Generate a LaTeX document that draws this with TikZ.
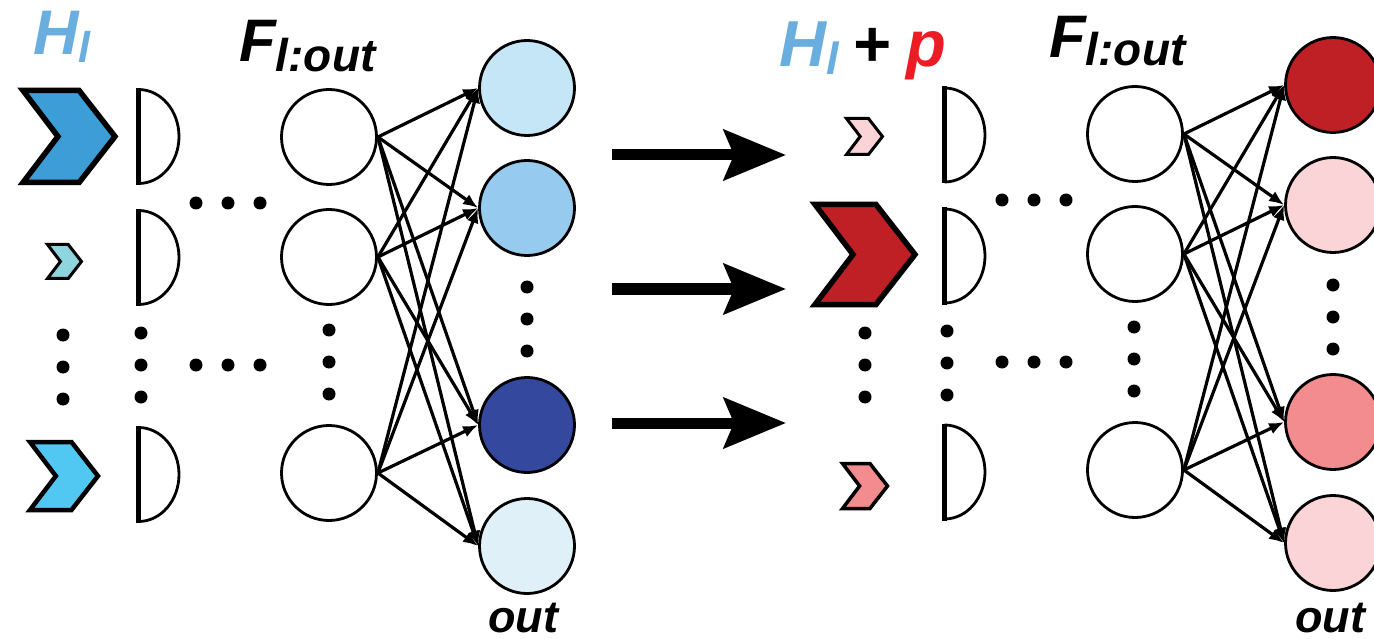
\documentclass[tikz,border=0pt]{standalone}
\usepackage{fontspec}
\setmainfont{Liberation Sans}
\usetikzlibrary{arrows.meta}

\definecolor{hblue}{RGB}{106,174,224}
\definecolor{chevA}{RGB}{61,157,214}
\definecolor{chevB}{RGB}{143,213,224}
\definecolor{chevC}{RGB}{80,200,242}
\definecolor{outA}{RGB}{196,230,247}
\definecolor{outB}{RGB}{150,202,238}
\definecolor{outC}{RGB}{52,73,158}
\definecolor{outD}{RGB}{223,240,248}
\definecolor{redA}{RGB}{190,32,38}
\definecolor{pinkA}{RGB}{250,212,214}
\definecolor{salmonA}{RGB}{242,140,143}
\definecolor{pred}{RGB}{237,28,36}

\tikzset{
  neuron/.style={circle,draw,line width=2.8pt,minimum size=95pt,inner sep=0pt},
  link/.style={line width=3.2pt,-{Latex[length=15pt,width=12pt]}},
  bigarrow/.style={line width=11pt,-{Stealth[length=62pt,width=50pt,inset=10pt]}},
  heading/.style={font=\bfseries\itshape,inner sep=0pt,anchor=base west},
}

% chevron: centre x, centre y, height, fill, line width
\newcommand{\chevron}[5]{%
  \filldraw[fill=#4,line width=#5] ({#1-0.5*#3},{#2-0.5*#3}) -- ({#1+0.11*#3},{#2-0.5*#3})
    -- ({#1+0.5*#3},#2) -- ({#1+0.11*#3},{#2+0.5*#3}) -- ({#1-0.5*#3},{#2+0.5*#3})
    -- ({#1-0.12*#3},#2) -- cycle;}
% half disc: x of the flat side, centre y
\newcommand{\halfdisc}[2]{%
  \draw[line width=2.8pt] (#1,{#2-47}) arc[start angle=-90,end angle=90,x radius=40.5,y radius=47];
  \draw[line width=5pt] (#1,{#2-48.5}) -- (#1,{#2+48.5});}
\newcommand{\vdotcol}[2]{\fill (#1,#2) circle[radius=6.5] (#1,{#2+32}) circle[radius=6.5] (#1,{#2+64}) circle[radius=6.5];}
\newcommand{\hdotrow}[2]{\fill (#1,#2) circle[radius=6.5] ({#1+32},#2) circle[radius=6.5] ({#1+64},#2) circle[radius=6.5];}

\begin{document}
\begin{tikzpicture}[x=1pt,y=-1pt]
    \useasboundingbox (0,0) rectangle (1374,639);

    % left: H_l feeding F_l:out
    \node[heading,text=hblue] (hl) at (33,55) {\fontsize{63}{63}\selectfont H\raisebox{-8pt}{\fontsize{43}{43}\selectfont l}};
    \node[heading] (fl) at (239,62) {\fontsize{60}{60}\selectfont F\raisebox{-10pt}{\fontsize{46}{46}\selectfont l:out}};

    \chevron{69}{136.5}{92}{chevA}{5.5}
    \chevron{64.5}{261.5}{34}{chevB}{3}
    \chevron{64}{476}{68}{chevC}{4.5}
    \vdotcol{63}{335}

    \halfdisc{138.5}{136.5}
    \halfdisc{138.5}{257.5}
    \halfdisc{138.5}{474.5}
    \vdotcol{141}{333}
    \hdotrow{196}{203}
    \hdotrow{196}{365}

    \node[neuron] (h1) at (329,137) {};
    \node[neuron] (h2) at (329,257) {};
    \node[neuron] (h3) at (329,473) {};
    \vdotcol{329}{330}

    \node[neuron,fill=outA] (o1) at (527,88) {};
    \node[neuron,fill=outB] (o2) at (527,208) {};
    \node[neuron,fill=outC] (o3) at (527,425) {};
    \node[neuron,fill=outD] (o4) at (527,546) {};
    \vdotcol{527}{287}
    \node[heading] (outl) at (488,632) {\fontsize{45}{45}\selectfont out};

    \draw[link] (h1.east) -- (o1.west);
    \draw[link] (h1.east) -- (o2.west);
    \draw[link] (h1.east) -- (o3.west);
    \draw[link] (h1.east) -- (o4.west);
    \draw[link] (h2.east) -- (o1.west);
    \draw[link] (h2.east) -- (o2.west);
    \draw[link] (h2.east) -- (o3.west);
    \draw[link] (h2.east) -- (o4.west);
    \draw[link] (h3.east) -- (o1.west);
    \draw[link] (h3.east) -- (o2.west);
    \draw[link] (h3.east) -- (o3.west);
    \draw[link] (h3.east) -- (o4.west);

    % middle arrows
    \coordinate (a1) at (612,155);
    \coordinate (b1) at (786,155);
    \coordinate (a2) at (612,289);
    \coordinate (b2) at (786,289);
    \coordinate (a3) at (612,423);
    \coordinate (b3) at (786,423);
    \draw[bigarrow] (a1) -- (b1);
    \draw[bigarrow] (a2) -- (b2);
    \draw[bigarrow] (a3) -- (b3);

    % right: H_l + p feeding F_l:out
    \node[heading,text=hblue] (hp) at (779,67) {\fontsize{65}{65}\selectfont H\raisebox{-8pt}{\fontsize{45}{45}\selectfont l}\hspace{14pt}{\color{black}+}\hspace{16pt}{\color{pred}p}};
    \node[heading] (fr) at (1049,58) {\fontsize{60}{60}\selectfont F\raisebox{-8pt}{\fontsize{46}{46}\selectfont l:out}};

    \chevron{864.5}{136.5}{36}{pinkA}{3}
    \chevron{865}{254.5}{100}{redA}{5.5}
    \chevron{865}{486}{45}{salmonA}{3.5}
    \vdotcol{865}{333}

    \halfdisc{944.5}{135}
    \halfdisc{944.5}{256}
    \halfdisc{944.5}{472}
    \vdotcol{947}{331}
    \hdotrow{1002}{200}
    \hdotrow{1002}{362}

    \node[neuron] (g1) at (1135,134) {};
    \node[neuron] (g2) at (1135,254) {};
    \node[neuron] (g3) at (1135,470) {};
    \vdotcol{1134}{327}

    \node[neuron,fill=redA] (q1) at (1333,85) {};
    \node[neuron,fill=pinkA] (q2) at (1333,205) {};
    \node[neuron,fill=salmonA] (q3) at (1333,422) {};
    \node[neuron,fill=pinkA] (q4) at (1333,543) {};
    \vdotcol{1333}{285}
    \node[heading] (outr) at (1295,632) {\fontsize{45}{45}\selectfont out};

    \draw[link] (g1.east) -- (q1.west);
    \draw[link] (g1.east) -- (q2.west);
    \draw[link] (g1.east) -- (q3.west);
    \draw[link] (g1.east) -- (q4.west);
    \draw[link] (g2.east) -- (q1.west);
    \draw[link] (g2.east) -- (q2.west);
    \draw[link] (g2.east) -- (q3.west);
    \draw[link] (g2.east) -- (q4.west);
    \draw[link] (g3.east) -- (q1.west);
    \draw[link] (g3.east) -- (q2.west);
    \draw[link] (g3.east) -- (q3.west);
    \draw[link] (g3.east) -- (q4.west);
\end{tikzpicture}
\end{document}
